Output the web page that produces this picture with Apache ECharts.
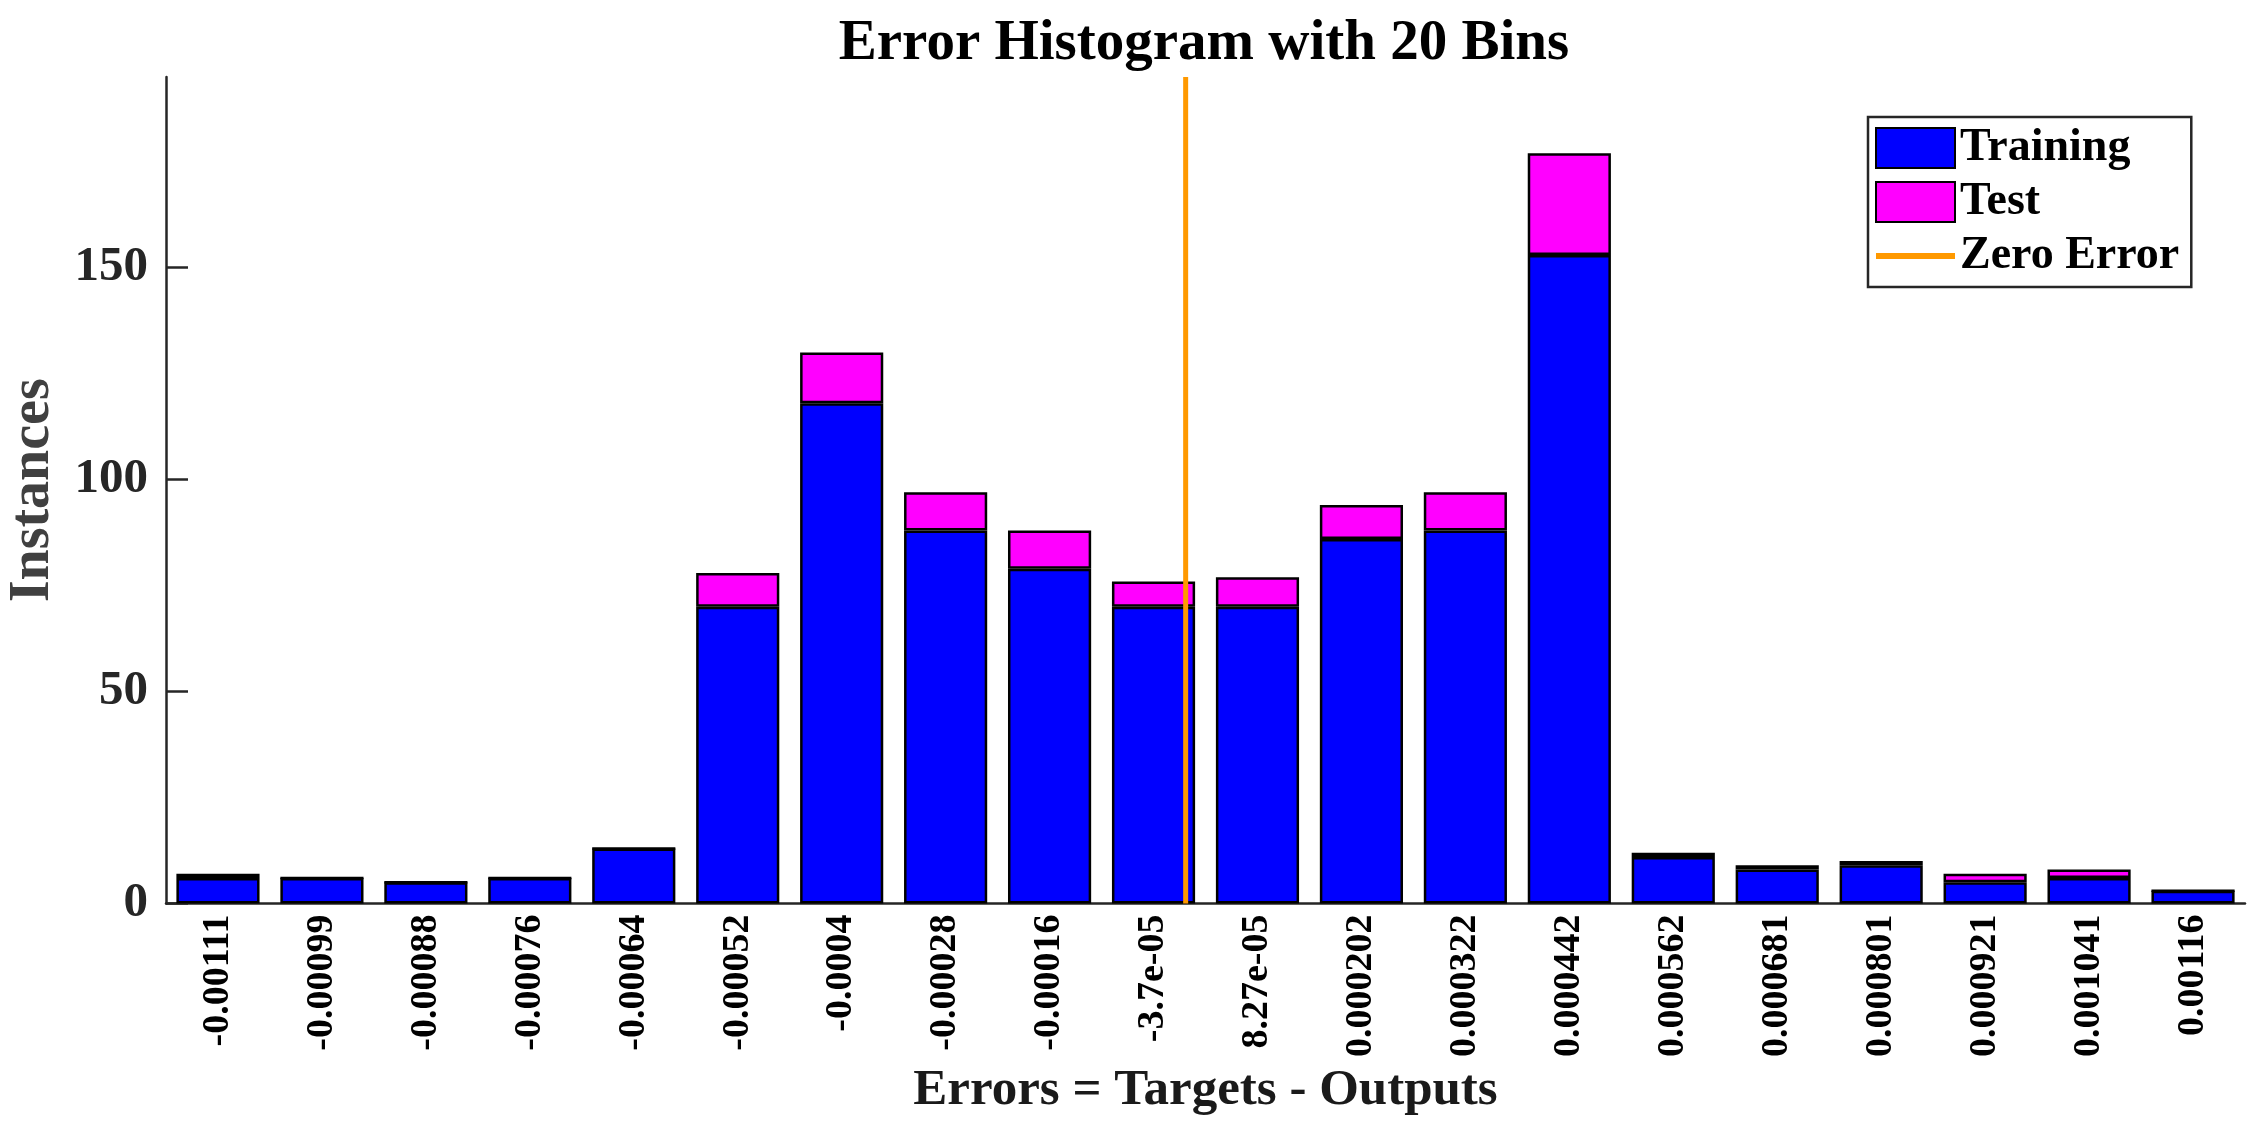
<!DOCTYPE html>
<html>
<head>
<meta charset="utf-8">
<script src="https://cdn.jsdelivr.net/npm/echarts@6/dist/echarts.min.js"></script>
<style>
html,body{margin:0;padding:0;background:#fff;}
#chart{width:2258px;height:1128px;}
</style>
</head>
<body>
<div id="chart"></div>
<script>
const categories = ['-0.00111','-0.00099','-0.00088','-0.00076','-0.00064','-0.00052','-0.0004','-0.00028','-0.00016','-3.7e-05','8.27e-05','0.000202','0.000322','0.000442','0.000562','0.000681','0.000801','0.000921','0.001041','0.00116'];
const training = [6,6,5,6,13,70,118,88,79,70,70,86,88,153,11,8,9,5,6,3];
const test = [1,0,0,0,0,8,12,9,9,6,7,8,9,24,1,1,1,2,2,0];
const yTicks = [0,50,100,150];
const yMax = 195;

// position of zero error in bin-index units, interpolated between neighbouring bin centres
const centers = categories.map(Number);
let zeroPos = 0;
for (let i = 0; i < centers.length - 1; i++) {
  if (centers[i] <= 0 && centers[i+1] >= 0) {
    zeroPos = i + (0 - centers[i]) / (centers[i+1] - centers[i]);
    break;
  }
}

const FONT = "'Liberation Serif', 'Times New Roman', serif";
const chart = echarts.init(document.getElementById('chart'), null, {renderer:'canvas'});
chart.setOption({
  animation: false,
  backgroundColor: '#ffffff',
  title: {
    text: 'Error Histogram with 20 Bins',
    left: 1199,
    textAlign: 'center',
    top: 11,
    textStyle: {fontFamily: FONT, fontWeight: 'bold', fontSize: 57, color: '#000'}
  },
  legend: {
    left: 1868,
    top: 117,
    orient: 'vertical',
    itemWidth: 79,
    itemHeight: 40,
    itemGap: 8,
    padding: [8, 12, 8, 7],
    borderColor: '#262626',
    borderWidth: 2.5,
    backgroundColor: '#fff',
    textStyle: {fontFamily: FONT, fontWeight: 'bold', fontSize: 46, color: '#000'},
    data: [
      {name: 'Training', icon: 'rect'},
      {name: 'Test', icon: 'rect'},
      {name: 'Zero Error', icon: 'path://M0,0 L79,0 L79,6 L0,6 Z', itemStyle: {color: '#ff9900', borderWidth: 0}}
    ]
  },
  grid: {left: 166, right: 13, top: 77, bottom: 224.5, containLabel: false, outerBoundsMode: 'none'},
  xAxis: [
    {
      type: 'category',
      data: categories,
      boundaryGap: true,
      name: 'Errors = Targets - Outputs',
      nameLocation: 'middle',
      nameGap: 161,
      nameTextStyle: {fontFamily: FONT, fontWeight: 'bold', fontSize: 51, color: '#1a1a1a'},
      axisLine: {lineStyle: {color: '#262626', width: 2.5}},
      axisTick: {inside: true, length: 21, alignWithLabel: true, lineStyle: {color: '#262626', width: 2.5}},
      axisLabel: {rotate: 90, margin: 11, fontFamily: FONT, fontWeight: 'bold', fontSize: 38, color: '#000', interval: 0}
    },
    {
      type: 'value',
      min: -0.5,
      max: categories.length - 0.5,
      show: false
    }
  ],
  yAxis: {
    type: 'value',
    min: 0,
    max: yMax,
    name: 'Instances',
    nameLocation: 'middle',
    nameRotate: 90,
    nameGap: 104,
    nameTextStyle: {fontFamily: FONT, fontWeight: 'bold', fontSize: 56, color: '#404040'},
    axisLine: {show: true, onZero: false, lineStyle: {color: '#262626', width: 2.5}},
    axisTick: {show: true, inside: true, length: 22, customValues: yTicks, lineStyle: {color: '#262626', width: 2.5}},
    axisLabel: {customValues: yTicks, margin: 18, fontFamily: FONT, fontWeight: 'bold', fontSize: 49, color: '#262626'},
    splitLine: {show: false}
  },
  series: [
    {
      name: 'Training',
      type: 'bar',
      stack: 'total',
      barWidth: '80%',
      data: training,
      itemStyle: {color: '#0000ff', borderColor: '#000', borderWidth: 2.5}
    },
    {
      name: 'Test',
      type: 'bar',
      stack: 'total',
      barWidth: '80%',
      data: test,
      itemStyle: {color: '#ff00ff', borderColor: '#000', borderWidth: 2.5}
    },
    {
      name: 'Zero Error',
      type: 'line',
      xAxisIndex: 1,
      symbol: 'none',
      data: [[zeroPos, 0], [zeroPos, yMax]],
      lineStyle: {color: '#ff9900', width: 5},
      itemStyle: {color: '#ff9900'},
      z: 5
    }
  ]
});
</script>
</body>
</html>
